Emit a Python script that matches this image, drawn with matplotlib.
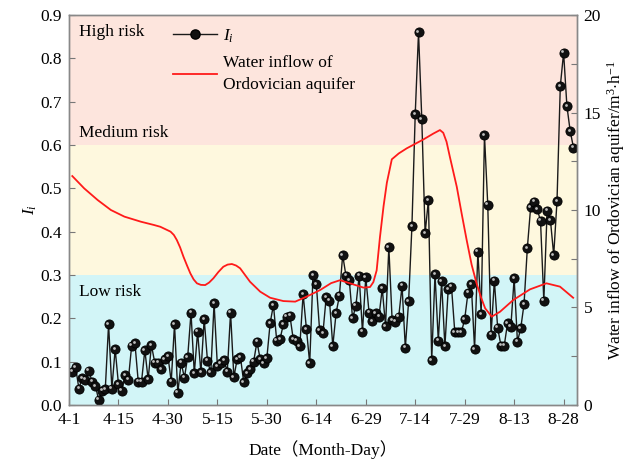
import numpy as np
import matplotlib
matplotlib.use("Agg")
import matplotlib.pyplot as plt
from matplotlib.lines import Line2D
from matplotlib.transforms import offset_copy

plt.rcParams['font.family'] = ['Liberation Serif', 'Noto Sans CJK SC']
plt.rcParams['mathtext.fontset'] = 'custom'
plt.rcParams['mathtext.rm'] = 'Liberation Serif'
plt.rcParams['mathtext.it'] = 'Liberation Serif:italic'
plt.rcParams['font.size'] = 12.5

# daily risk index, 4-1 .. 8-31
risk_index = [
    0.077, 0.087, 0.038, 0.062, 0.058, 0.079, 0.054, 0.044, 0.012, 0.033,
    0.036, 0.186, 0.038, 0.129, 0.048, 0.033, 0.069, 0.058, 0.137, 0.142,
    0.054, 0.054, 0.127, 0.059, 0.138,
    0.098, 0.098, 0.082, 0.106, 0.113, 0.054, 0.186, 0.028, 0.098, 0.063,
    0.111, 0.213, 0.073, 0.169, 0.075, 0.198, 0.102, 0.075, 0.235, 0.090,
    0.096, 0.104, 0.077, 0.213, 0.064, 0.106,
    0.110, 0.052, 0.073, 0.082, 0.100, 0.146, 0.105, 0.096, 0.108, 0.189,
    0.231, 0.148, 0.152, 0.186, 0.204, 0.206, 0.152, 0.148, 0.136, 0.256,
    0.175, 0.096, 0.300, 0.279, 0.173, 0.165,
    0.249, 0.241, 0.136, 0.212, 0.252, 0.346, 0.298, 0.288, 0.200, 0.229,
    0.298, 0.169, 0.295, 0.213, 0.194, 0.212, 0.204,
    0.269, 0.182, 0.364, 0.195, 0.192, 0.204, 0.275, 0.132, 0.240, 0.413,
    0.671, 0.860, 0.659, 0.396, 0.473, 0.104, 0.302, 0.148, 0.285, 0.135,
    0.267, 0.273, 0.168, 0.168, 0.168, 0.198, 0.259, 0.279, 0.129, 0.354,
    0.209, 0.623, 0.462, 0.162, 0.287, 0.178, 0.137, 0.137, 0.189, 0.181,
    0.292, 0.146, 0.177, 0.233, 0.362, 0.456, 0.469, 0.452, 0.425, 0.241,
    0.448, 0.427, 0.346, 0.471, 0.736, 0.813, 0.690, 0.632, 0.594,
]
days = np.arange(1, len(risk_index) + 1)

# Ordovician aquifer inflow (m3/h), read at these day numbers
inflow_days = [1, 4.6, 8.7, 12.7, 16.8, 21.8, 25.8, 27.7, 30.8, 31.8,
               32.7, 33.7, 34.7, 35.8, 36.8, 37.8, 38.8, 40, 41.3, 42.5,
               43.8, 45.3, 46.8, 48.1, 49.4, 50.7, 51.9, 54.9, 58, 61,
               65, 68.6, 72.1, 76.2, 79.5, 82.2, 85.2, 89.3, 91.3, 92.3,
               93.3, 94.3, 95.4, 96.4, 97.9, 100, 102.4, 107.5, 110.5, 112.5,
               113.5, 114.5, 115.5, 117.6, 119.1, 120.6, 122.1, 123.6, 125, 126.2,
               128.2, 130.7, 134.7, 139.8, 144.8, 148.9, 152.9]
inflow = [11.74, 11.11, 10.51, 10.0, 9.66, 9.40, 9.23, 9.14, 8.89, 8.72,
          8.46, 8.08, 7.61, 7.15, 6.75, 6.44, 6.24, 6.16, 6.15, 6.28,
          6.50, 6.82, 7.09, 7.20, 7.23, 7.15, 7.01, 6.32, 5.81, 5.50,
          5.33, 5.30, 5.56, 5.90, 6.25, 6.40, 6.24, 6.02, 6.05, 6.30,
          6.90, 8.6, 10.2, 11.4, 12.6, 12.9, 13.16, 13.62, 13.92, 14.10,
          13.96, 13.5, 12.73, 11.19, 9.80, 8.46, 7.20, 6.24, 5.50, 4.96,
          4.53, 4.78, 5.38, 5.93, 6.24, 6.07, 5.50]

tick_pos = np.arange(0, 151, 15)
tick_labels = ['4-1', '4-15', '4-30', '5-15', '5-30', '6-14', '6-29',
               '7-14', '7-29', '8-13', '8-28']

fig, ax = plt.subplots(figsize=(6.29, 4.62), dpi=100)
fig.subplots_adjust(left=0.1097, right=0.917, bottom=0.1234, top=0.9675)

ax.axhspan(0.0, 0.3, color='#d2f5f7', zorder=0, lw=0)
ax.axhspan(0.3, 0.6, color='#fef8de', zorder=0, lw=0)
ax.axhspan(0.6, 0.9, color='#fde5dd', zorder=0, lw=0)

ax.plot(days, risk_index, color='#1a1a1a', lw=1.0, zorder=2)
ax.plot(days, risk_index, ls='none', marker='o', ms=6.6, mfc='#111111',
        mec='#000000', mew=0.6, zorder=3)
# small highlight on each ball
hl = offset_copy(ax.transData, fig=fig, x=-1.0, y=1.0, units='points')
ax.plot(days, risk_index, ls='none', marker='o', ms=2.0, mfc='#bdbdbd',
        mec='none', transform=hl, zorder=4)

ax.set_xlim(0, 154)
ax.set_ylim(0, 0.9)
ax.set_xticks(tick_pos)
ax.set_xticklabels(tick_labels)
ax.set_yticks(np.arange(0, 0.91, 0.1))
ax.set_yticklabels(['%.1f' % v for v in np.arange(0, 0.91, 0.1)])
ax.set_xlabel('Date\uff08Month-Day\uff09', labelpad=9)
ax.set_ylabel('$I_i$', labelpad=1)

ax.text(0.02, 0.861, 'High risk', transform=ax.get_yaxis_transform(), va='center')
ax.text(0.02, 0.628, 'Medium risk', transform=ax.get_yaxis_transform(), va='center')
ax.text(0.02, 0.261, 'Low risk', transform=ax.get_yaxis_transform(), va='center')

ax2 = ax.twinx()
ax2.plot(inflow_days, inflow, color='#ff1a1a', lw=1.3)
ax2.set_ylim(0, 20)
ax2.set_yticks(np.arange(0, 20.1, 2.5))
ax2.set_yticklabels(['0', '', '5', '', '10', '', '15', '', '20'])
ax2.set_ylabel('Water inflow of Ordovician aquifer/m$^3$$\\cdot$h$^{-1}$', labelpad=3)

for a in (ax, ax2):
    a.tick_params(direction='in', length=4, width=0.8, color='#777777')
    for s in a.spines.values():
        s.set_color('#888888')
        s.set_linewidth(1.0)
ax.tick_params(axis='x', pad=5)
ax.tick_params(axis='y', pad=5)
ax2.tick_params(axis='y', pad=5)

handles = [
    Line2D([], [], color='#1a1a1a', lw=1.0, marker='o', ms=6.6,
           mfc='#111111', mec='#000000'),
    Line2D([], [], color='#ff1a1a', lw=1.3),
]
leg = ax2.legend(handles, ['$I_i$', 'Water inflow of\nOrdovician aquifer'],
                 loc='upper left', bbox_to_anchor=(0.205, 0.968), frameon=False,
                 handlelength=2.5, handletextpad=0.4, borderpad=0, borderaxespad=0,
                 labelspacing=0.6)
for t in leg.get_texts():
    t.set_linespacing(1.45)

fig.savefig('out.png', dpi=100)
